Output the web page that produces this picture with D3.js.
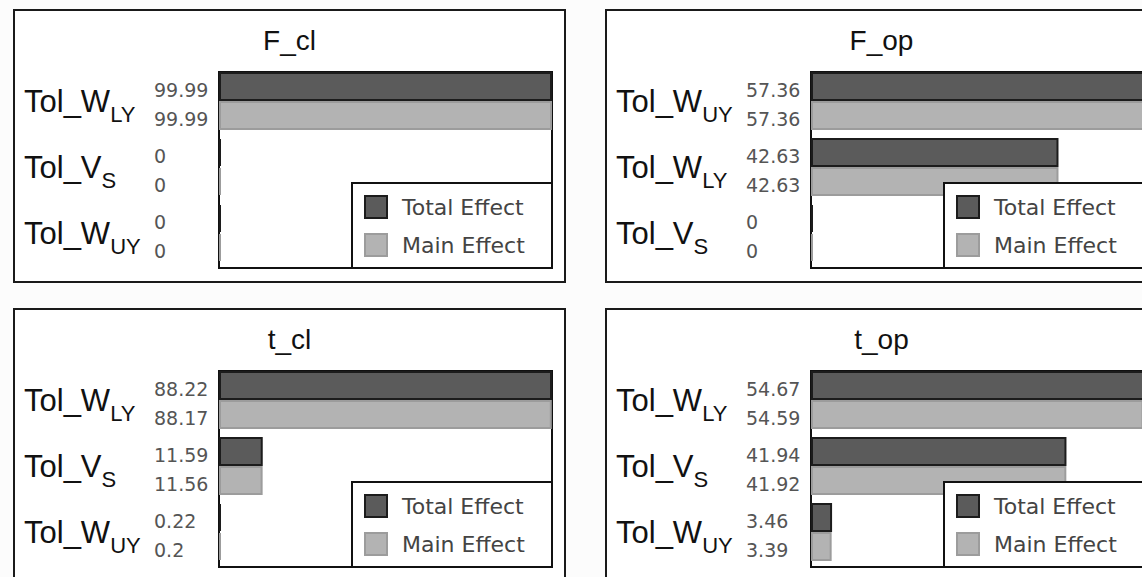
<!DOCTYPE html>
<html>
<head>
<meta charset="utf-8">
<script src="https://cdn.jsdelivr.net/npm/d3@7"></script>
<style>
  html, body { margin: 0; padding: 0; background: #fcfcfc; }
  svg { display: block; }
</style>
</head>
<body>
<svg id="chart" width="1142" height="577"></svg>
<script>
// Sensitivity indices (%) per output, one small set of arrays per panel
const panelTitles = ["F_cl", "F_op", "t_cl", "t_op"];
const seriesNames = ["Total Effect", "Main Effect"];

const catsFcl = ["Tol_W_LY", "Tol_V_S", "Tol_W_UY"];
const totalFcl = [99.99, 0, 0];
const mainFcl = [99.99, 0, 0];

const catsFop = ["Tol_W_UY", "Tol_W_LY", "Tol_V_S"];
const totalFop = [57.36, 42.63, 0];
const mainFop = [57.36, 42.63, 0];

const catsTcl = ["Tol_W_LY", "Tol_V_S", "Tol_W_UY"];
const totalTcl = [88.22, 11.59, 0.22];
const mainTcl = [88.17, 11.56, 0.2];

const catsTop = ["Tol_W_LY", "Tol_V_S", "Tol_W_UY"];
const totalTop = [54.67, 41.94, 3.46];
const mainTop = [54.59, 41.92, 3.39];

const panels = [
  { title: panelTitles[0], cats: catsFcl, total: totalFcl, main: mainFcl, col: 0, row: 0 },
  { title: panelTitles[1], cats: catsFop, total: totalFop, main: mainFop, col: 1, row: 0 },
  { title: panelTitles[2], cats: catsTcl, total: totalTcl, main: mainTcl, col: 0, row: 1 },
  { title: panelTitles[3], cats: catsTop, total: totalTop, main: mainTop, col: 1, row: 1 }
];

// Layout
const colX = [14, 606];
const rowY = [10, 309];
const outerW = 551, outerH = 272;
const plotLeft = 205, plotTop = 62, plotW = 333, plotH = 196;
const bandSpan = 198, groupH = 58;

const styles = {
  "Total Effect": { fill: "#5b5b5b", stroke: "#1c1c1c" },
  "Main Effect": { fill: "#b3b3b3", stroke: "#9c9c9c" }
};

const svg = d3.select("#chart");

panels.forEach(p => {
  const g = svg.append("g")
    .attr("transform", `translate(${colX[p.col]},${rowY[p.row]})`);

  g.append("rect")
    .attr("x", 0).attr("y", 0)
    .attr("width", outerW).attr("height", outerH)
    .attr("fill", "#ffffff")
    .attr("stroke", "#1a1a1a").attr("stroke-width", 2);

  g.append("text")
    .attr("x", outerW / 2).attr("y", 40)
    .attr("text-anchor", "middle")
    .attr("font-family", "Liberation Sans, Arial, sans-serif")
    .attr("font-size", 28)
    .attr("fill", "#111")
    .text(p.title);

  const plot = g.append("g").attr("transform", `translate(${plotLeft},${plotTop})`);

  const y = d3.scaleBand().domain(p.cats).range([0, bandSpan]);
  const ySub = d3.scaleBand().domain(seriesNames).range([0, groupH]);
  const x = d3.scaleLinear().domain([0, d3.max(p.total)]).range([0, plotW]);

  plot.append("rect")
    .attr("x", 0).attr("y", 0)
    .attr("width", plotW).attr("height", plotH)
    .attr("fill", "none")
    .attr("stroke", "#111").attr("stroke-width", 2);

  const rows = [];
  p.cats.forEach((c, i) => {
    rows.push({ cat: c, series: seriesNames[0], value: p.total[i] });
    rows.push({ cat: c, series: seriesNames[1], value: p.main[i] });
  });

  // Bars as paths so that zero-length bars still show their outline
  plot.selectAll("path.bar").data(rows).enter().append("path")
    .attr("class", "bar")
    .attr("d", d => {
      const y0 = y(d.cat) + ySub(d.series) + 1;
      const y1 = y0 + ySub.bandwidth() - 2;
      const x0 = x(0) + 1;
      const x1 = Math.max(x0, x(d.value) - 1);
      return `M${x0},${y0}H${x1}V${y1}H${x0}Z`;
    })
    .attr("fill", d => styles[d.series].fill)
    .attr("stroke", d => styles[d.series].stroke)
    .attr("stroke-width", 2);

  // Value labels in a left-aligned column before the axis
  plot.selectAll("text.val").data(rows).enter().append("text")
    .attr("class", "val")
    .attr("x", -65)
    .attr("y", d => y(d.cat) + ySub(d.series) + ySub.bandwidth() / 2 + 3)
    .attr("text-anchor", "start")
    .attr("dominant-baseline", "central")
    .attr("font-family", "DejaVu Sans, Verdana, sans-serif")
    .attr("font-size", 19)
    .attr("fill", "#555")
    .text(d => String(d.value));

  // Category labels with subscripts
  p.cats.forEach(c => {
    const k = c.lastIndexOf("_");
    const t = plot.append("text")
      .attr("x", 10 - plotLeft)
      .attr("y", y(c) + groupH / 2 + 11)
      .attr("font-family", "Liberation Sans, Arial, sans-serif")
      .attr("font-size", 31)
      .attr("fill", "#111");
    t.append("tspan").text(c.slice(0, k));
    t.append("tspan").attr("font-size", 22).attr("dy", 10).text(c.slice(k + 1));
  });

  // Legend
  const lg = plot.append("g").attr("transform", `translate(${plotW - 200},111)`);
  lg.append("rect")
    .attr("x", 0).attr("y", 0).attr("width", 200).attr("height", 85)
    .attr("fill", "#ffffff")
    .attr("stroke", "#111").attr("stroke-width", 2);
  seriesNames.forEach((s, i) => {
    lg.append("rect")
      .attr("x", 13).attr("y", 13 + i * 38)
      .attr("width", 22).attr("height", 22)
      .attr("fill", styles[s].fill)
      .attr("stroke", styles[s].stroke).attr("stroke-width", 2);
    lg.append("text")
      .attr("x", 50).attr("y", 32 + i * 38)
      .attr("font-family", "DejaVu Sans, Verdana, sans-serif")
      .attr("font-size", 22)
      .attr("fill", "#444")
      .text(s);
  });
});
</script>
</body>
</html>
